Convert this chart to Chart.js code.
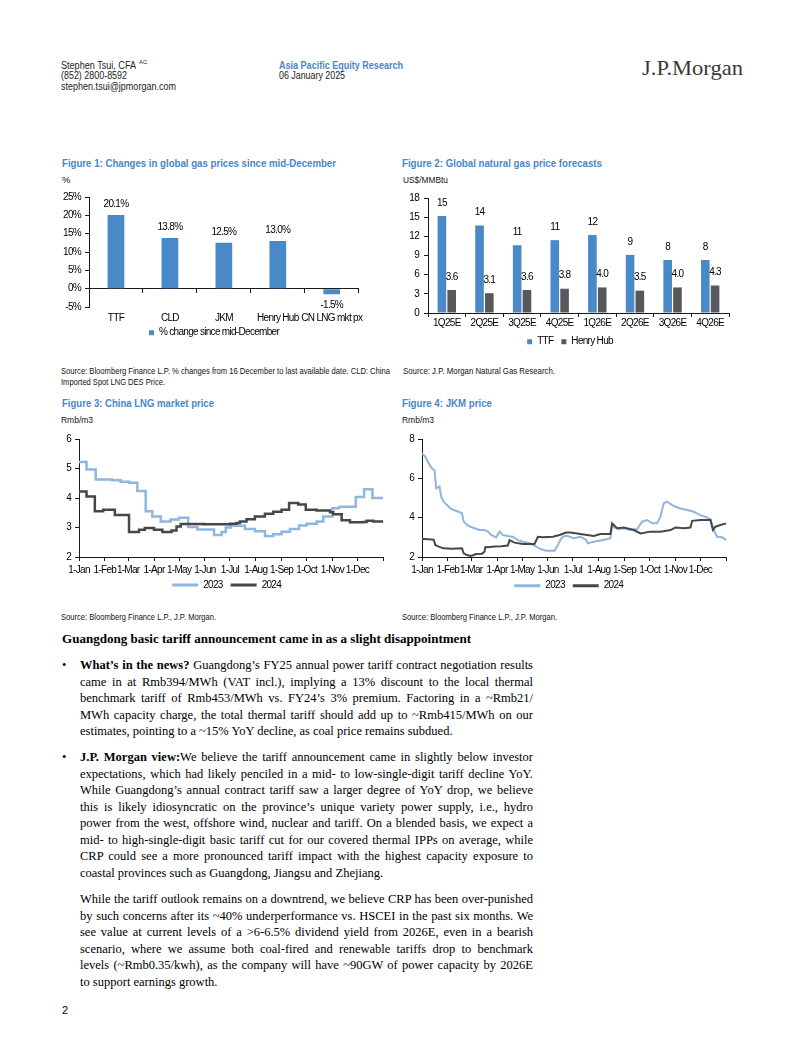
<!DOCTYPE html>
<html>
<head>
<meta charset="utf-8">
<title>Guangdong tariff and gas prices</title>
<script src="https://cdn.jsdelivr.net/npm/chart.js@4.4.0/dist/chart.umd.min.js"></script>
<style>
  html, body { margin: 0; padding: 0; background: #fff; }
  body { position: relative; width: 802px; height: 1037px; overflow: hidden; font-family: "Liberation Sans", Arial, sans-serif; color: #000; }
  .t { position: absolute; white-space: nowrap; transform-origin: 0 50%; }
  .hdr { font-size: 10px; line-height: 12px; color: #222; }
  .blue { color: #4a86c8; font-weight: bold; }
  .narrow { font-family: "Liberation Sans Narrow", "Liberation Sans", Arial, sans-serif; }
  .fig { font-weight: bold; font-size: 11.5px; line-height: 14px; color: #4a86c8; }
  .small { font-size: 9.5px; line-height: 11px; color: #111; }
  canvas { position: absolute; }
  .serif { font-family: "Liberation Serif", "Times New Roman", serif; }
  .h { font-size: 13.4px; font-weight: bold; line-height: 17px; }
  .p { font-size: 12.5px; line-height: 17px; }
  .logo { font-size: 22px; line-height: 24px; color: #3a3a3a; }
</style>
</head>
<body>

<!-- header -->
<div class="t hdr" style="left:61px;top:60px" data-w="75">Stephen Tsui, CFA</div>
<div class="t hdr" style="left:139px;top:58px;font-size:6px;line-height:8px">AC</div>
<div class="t hdr" style="left:61px;top:70px" data-w="66">(852) 2800-8592</div>
<div class="t hdr" style="left:61px;top:81px" data-w="115">stephen.tsui@jpmorgan.com</div>
<div class="t hdr blue" style="left:279px;top:60px" data-w="124">Asia Pacific Equity Research</div>
<div class="t hdr" style="left:279px;top:70px" data-w="66">06 January 2025</div>
<div class="t serif logo" style="left:642px;top:56px" data-w="101">J.P.Morgan</div>

<!-- figure titles, units, sources -->
<div class="t narrow fig" style="left:62px;top:156px" data-w="274">Figure 1: Changes in global gas prices since mid-December</div>
<div class="t narrow small" style="left:62px;top:174px">%</div>
<div class="t narrow fig" style="left:402px;top:156px" data-w="200">Figure 2: Global natural gas price forecasts</div>
<div class="t narrow small" style="left:403px;top:174px" data-w="45">US$/MMBtu</div>
<div class="t narrow small" style="left:61px;top:365px" data-w="329">Source: Bloomberg Finance L.P. % changes from 16 December to last available date. CLD: China</div>
<div class="t narrow small" style="left:61px;top:376px" data-w="104">Imported Spot LNG DES Price.</div>
<div class="t narrow small" style="left:403px;top:365px" data-w="152">Source: J.P. Morgan Natural Gas Research.</div>

<div class="t narrow fig" style="left:62px;top:396px" data-w="152">Figure 3: China LNG market price</div>
<div class="t narrow small" style="left:61px;top:414px" data-w="32">Rmb/m3</div>
<div class="t narrow fig" style="left:402px;top:396px" data-w="90">Figure 4: JKM price</div>
<div class="t narrow small" style="left:402px;top:414px" data-w="32">Rmb/m3</div>
<div class="t narrow small" style="left:61px;top:611px" data-w="155">Source: Bloomberg Finance L.P., J.P. Morgan.</div>
<div class="t narrow small" style="left:402px;top:611px" data-w="155">Source: Bloomberg Finance L.P., J.P. Morgan.</div>

<canvas id="fig1" width="312" height="169" style="left:56px;top:186px"></canvas>
<canvas id="fig2" width="352" height="173" style="left:398px;top:186px"></canvas>
<canvas id="fig3" width="336" height="178" style="left:56px;top:426px"></canvas>
<canvas id="fig4" width="340" height="178" style="left:398px;top:426px"></canvas>

<!-- text -->
<div class="t serif h" style="left:62px;top:630px" data-w="409">Guangdong basic tariff announcement came in as a slight disappointment</div>

<div class="t serif p" style="left:62px;top:657px">•</div>
<div class="t serif p j" style="left:80px;top:657px"><b>What’s in the news?</b> Guangdong’s FY25 annual power tariff contract negotiation results</div>
<div class="t serif p j" style="left:80px;top:674px">came in at Rmb394/MWh (VAT incl.), implying a 13% discount to the local thermal</div>
<div class="t serif p j" style="left:80px;top:690px">benchmark tariff of Rmb453/MWh vs. FY24’s 3% premium. Factoring in a ~Rmb21/</div>
<div class="t serif p j" style="left:80px;top:707px">MWh capacity charge, the total thermal tariff should add up to ~Rmb415/MWh on our</div>
<div class="t serif p" style="left:80px;top:723px">estimates, pointing to a ~15% YoY decline, as coal price remains subdued.</div>

<div class="t serif p" style="left:62px;top:749px">•</div>
<div class="t serif p j" style="left:80px;top:749px"><b>J.P. Morgan view:</b>We believe the tariff announcement came in slightly below investor</div>
<div class="t serif p j" style="left:80px;top:766px">expectations, which had likely penciled in a mid- to low-single-digit tariff decline YoY.</div>
<div class="t serif p j" style="left:80px;top:782px">While Guangdong’s annual contract tariff saw a larger degree of YoY drop, we believe</div>
<div class="t serif p j" style="left:80px;top:799px">this is likely idiosyncratic on the province’s unique variety power supply, i.e., hydro</div>
<div class="t serif p j" style="left:80px;top:815px">power from the west, offshore wind, nuclear and tariff. On a blended basis, we expect a</div>
<div class="t serif p j" style="left:80px;top:832px">mid- to high-single-digit basic tariff cut for our covered thermal IPPs on average, while</div>
<div class="t serif p j" style="left:80px;top:848px">CRP could see a more pronounced tariff impact with the highest capacity exposure to</div>
<div class="t serif p" style="left:80px;top:865px">coastal provinces such as Guangdong, Jiangsu and Zhejiang.</div>

<div class="t serif p j" style="left:80px;top:891px">While the tariff outlook remains on a downtrend, we believe CRP has been over-punished</div>
<div class="t serif p j" style="left:80px;top:908px">by such concerns after its ~40% underperformance vs. HSCEI in the past six months. We</div>
<div class="t serif p j" style="left:80px;top:924px">see value at current levels of a &gt;6-6.5% dividend yield from 2026E, even in a bearish</div>
<div class="t serif p j" style="left:80px;top:941px">scenario, where we assume both coal-fired and renewable tariffs drop to benchmark</div>
<div class="t serif p j" style="left:80px;top:957px">levels (~Rmb0.35/kwh), as the company will have ~90GW of power capacity by 2026E</div>
<div class="t serif p" style="left:80px;top:974px">to support earnings growth.</div>

<div class="t" style="left:62px;top:1004px;font-size:11px;line-height:13px">2</div>

<script>
// ---- data ----
const gasLabels = ['TTF', 'CLD', 'JKM', 'Henry Hub', 'CN LNG mkt px'];
const gasChange = [20.1, 13.8, 12.5, 13.0, -1.5];

const quarters = ['1Q25E', '2Q25E', '3Q25E', '4Q25E', '1Q26E', '2Q26E', '3Q26E', '4Q26E'];
const ttfForecast = [15.2, 13.7, 10.6, 11.4, 12.2, 9.1, 8.3, 8.3];
const hhForecast = [3.6, 3.1, 3.6, 3.8, 4.0, 3.5, 4.0, 4.3];

const monthStarts = [0, 31, 59, 90, 120, 151, 181, 212, 243, 273, 304, 334, 365];
const monthLabels = ['1-Jan', '1-Feb', '1-Mar', '1-Apr', '1-May', '1-Jun', '1-Jul', '1-Aug', '1-Sep', '1-Oct', '1-Nov', '1-Dec', ''];

// China LNG market price (day of year, Rmb/m3), stepped
const lngDays2023 = [0, 9, 20, 40, 50, 60, 70, 80, 88, 98, 110, 120, 131, 142, 162, 171, 176, 182, 199, 211, 223, 233, 243, 253, 264, 273, 285, 293, 304, 312, 332, 342, 352, 365];
const lng2023 = [5.22, 4.97, 4.63, 4.6, 4.55, 4.52, 4.24, 3.55, 3.37, 3.2, 3.27, 3.33, 3.02, 2.93, 2.75, 2.85, 3.0, 3.06, 2.95, 2.87, 2.71, 2.77, 2.86, 2.95, 3.07, 3.13, 3.2, 3.37, 3.65, 3.7, 4.03, 4.3, 4.0, 4.0];
const lngDays2024 = [0, 9, 19, 29, 43, 60, 72, 79, 90, 100, 111, 117, 122, 150, 181, 189, 193, 201, 211, 223, 233, 243, 252, 263, 272, 285, 301, 305, 315, 325, 341, 345, 353, 365];
const lng2024 = [4.22, 4.05, 3.55, 3.6, 3.42, 2.85, 2.92, 2.98, 2.92, 2.85, 2.9, 3.03, 3.12, 3.11, 3.13, 3.15, 3.2, 3.28, 3.37, 3.47, 3.53, 3.6, 3.83, 3.78, 3.6, 3.58, 3.52, 3.45, 3.25, 3.18, 3.19, 3.23, 3.2, 3.2];

// JKM price (day of year, Rmb/m3)
const jkmDays2023 = [0, 4, 8, 12, 15, 17, 21, 23, 26, 30, 34, 38, 44, 48, 50, 54, 58, 63, 69, 75, 79, 83, 89, 93, 97, 103, 109, 115, 121, 129, 137, 143, 149, 159, 163, 167, 171, 175, 182, 190, 197, 199, 202, 210, 218, 226, 228, 236, 242, 250, 258, 264, 270, 276, 282, 286, 290, 294, 302, 310, 318, 326, 334, 342, 346, 350, 354, 360, 365];
const jkm2023 = [7.27, 7.1, 6.76, 6.5, 6.42, 5.5, 5.58, 5.07, 4.8, 4.64, 4.47, 4.39, 4.3, 4.22, 3.8, 3.63, 3.54, 3.46, 3.37, 3.37, 3.29, 3.12, 3.0, 3.29, 3.12, 3.07, 3.03, 2.86, 2.78, 2.7, 2.53, 2.39, 2.32, 2.32, 2.61, 2.95, 3.07, 3.07, 2.95, 3.03, 2.86, 2.7, 2.73, 2.81, 2.86, 2.95, 3.54, 3.42, 3.46, 3.37, 3.42, 3.8, 3.88, 3.71, 3.71, 4.05, 4.73, 4.81, 4.59, 4.47, 4.39, 4.3, 4.13, 4.01, 3.91, 3.37, 3.03, 3.0, 2.86];
const jkmDays2024 = [0, 8, 14, 16, 20, 26, 36, 48, 50, 54, 58, 62, 65, 72, 75, 76, 79, 87, 95, 103, 105, 111, 121, 135, 139, 145, 157, 165, 173, 178, 186, 198, 206, 214, 226, 228, 234, 242, 254, 262, 274, 286, 298, 304, 314, 322, 324, 334, 346, 349, 352, 358, 365];
const jkm2024 = [2.92, 2.9, 2.88, 2.61, 2.53, 2.44, 2.42, 2.44, 2.19, 2.1, 2.05, 2.1, 2.15, 2.17, 2.27, 2.5, 2.49, 2.53, 2.55, 2.58, 2.86, 2.73, 2.66, 2.66, 3.03, 3.0, 3.03, 3.12, 3.24, 3.25, 3.2, 3.12, 3.07, 3.17, 3.17, 3.71, 3.46, 3.5, 3.37, 3.2, 3.29, 3.29, 3.37, 3.5, 3.46, 3.5, 3.84, 3.88, 3.88, 3.37, 3.54, 3.63, 3.71];

// ---- styling ----
const FONT = '"Liberation Sans Narrow", "Liberation Sans", Arial, sans-serif';
const BLUE = '#4a89c8';
const GREY = '#58585a';
const LIGHT = '#8fb6dd';
const DARK = '#474747';
const AXIS = '#1a1a1a';

Chart.defaults.font.family = FONT;
Chart.defaults.font.size = 10;
Chart.defaults.color = '#000';
Chart.defaults.animation = false;
Chart.defaults.responsive = false;
Chart.defaults.plugins.tooltip.enabled = false;

// no narrow face installed, so squeeze the letters a bit instead
const narrowText = {
  id: 'narrowText',
  beforeUpdate(chart) { chart.ctx.letterSpacing = '-0.7px'; },
  beforeDraw(chart) { chart.ctx.letterSpacing = '-0.7px'; }
};
Chart.register(narrowText);

// numbers over / under bars
const valueLabels = {
  id: 'valueLabels',
  afterDatasetsDraw(chart, args, opts) {
    if (!opts.format) return;
    const ctx = chart.ctx;
    ctx.save();
    ctx.font = '10px ' + FONT;
    ctx.fillStyle = '#000';
    ctx.textAlign = 'center';
    ctx.textBaseline = 'middle';
    chart.data.datasets.forEach((ds, i) => {
      chart.getDatasetMeta(i).data.forEach((bar, j) => {
        const v = ds.data[j];
        const y = v >= 0 ? bar.y - opts.offset : bar.y + opts.offset;
        ctx.fillText(opts.format(v, i), bar.x, y);
      });
    });
    ctx.restore();
  }
};

// nudge the legend box to where the source had it
const legendShift = {
  id: 'legendShift',
  afterLayout(chart, args, opts) {
    const lg = chart.legend;
    if (!lg) return;
    const dx = opts.dx || 0, dy = opts.dy || 0;
    lg.left += dx; lg.right += dx;
    lg.top += dy; lg.bottom += dy;
  }
};

const tickGrid = { drawOnChartArea: false, tickLength: 4, color: AXIS };
const axisBorder = { color: AXIS };

// Figure 1
new Chart(document.getElementById('fig1'), {
  type: 'bar',
  data: {
    labels: gasLabels,
    datasets: [{ label: '% change since mid-December', data: gasChange, backgroundColor: BLUE, categoryPercentage: 1, barPercentage: 0.31 }]
  },
  options: {
    layout: { padding: { top: 11, right: 8, bottom: 0, left: 0 } },
    scales: {
      x: {
        grid: { display: false, drawTicks: false }, border: { display: false },
        ticks: { padding: 5, autoSkip: false, maxRotation: 0 },
        afterFit: s => { s.height = 20; }
      },
      x0: {
        type: 'category', labels: gasLabels, position: { y: 0 }, offset: true,
        grid: tickGrid, border: axisBorder, ticks: { display: false }
      },
      y: {
        min: -5, max: 25,
        ticks: { stepSize: 5, padding: 4, callback: v => v + '%' },
        grid: tickGrid, border: axisBorder,
        afterFit: s => { s.width = 33; }
      }
    },
    plugins: {
      legend: { position: 'bottom', labels: { boxWidth: 5, boxHeight: 5, padding: 8 } },
      valueLabels: { offset: 11, format: v => v.toFixed(1) + '%' },
      legendShift: { dx: 6, dy: -7.3 }
    }
  },
  plugins: [valueLabels, legendShift]
});

// Figure 2
new Chart(document.getElementById('fig2'), {
  type: 'bar',
  data: {
    labels: quarters,
    datasets: [
      { label: 'TTF', data: ttfForecast, backgroundColor: BLUE, categoryPercentage: 0.52, barPercentage: 0.88 },
      { label: 'Henry Hub', data: hhForecast, backgroundColor: GREY, categoryPercentage: 0.52, barPercentage: 0.88 }
    ]
  },
  options: {
    layout: { padding: { top: 12, right: 21, bottom: 0, left: 0 } },
    scales: {
      x: {
        grid: tickGrid, border: axisBorder,
        ticks: { padding: 0, autoSkip: false, maxRotation: 0 },
        afterFit: s => { s.height = 18; }
      },
      y: {
        min: 0, max: 18,
        ticks: { stepSize: 3, padding: 5 },
        grid: tickGrid, border: axisBorder,
        afterFit: s => { s.width = 30; }
      }
    },
    plugins: {
      legend: { position: 'bottom', labels: { boxWidth: 5, boxHeight: 5, padding: 8 } },
      valueLabels: { offset: 13, format: (v, i) => i === 0 ? v.toFixed(0) : v.toFixed(1) },
      legendShift: { dx: 6.5, dy: -2.3 }
    }
  },
  plugins: [valueLabels, legendShift]
});

// Figures 3 and 4
const toPoints = (days, vals) => days.map((d, i) => ({ x: d, y: vals[i] }));

function seasonalChart(id, pts2023, pts2024, yMax, yStep, yWidth, padRight, lineWidth, stepped, dx, dy) {
  return new Chart(document.getElementById(id), {
    type: 'line',
    data: {
      datasets: [
        { label: '2023', data: pts2023, borderColor: LIGHT, backgroundColor: LIGHT, borderWidth: lineWidth, pointRadius: 0, stepped: stepped, order: 2 },
        { label: '2024', data: pts2024, borderColor: DARK, backgroundColor: DARK, borderWidth: lineWidth, pointRadius: 0, stepped: stepped, order: 1 }
      ]
    },
    options: {
      layout: { padding: { top: 13, right: padRight, bottom: 0, left: 0 } },
      scales: {
        x: {
          type: 'linear', min: 0, max: 365,
          afterBuildTicks: s => { s.ticks = monthStarts.map(v => ({ value: v })); },
          ticks: { autoSkip: false, maxRotation: 0, padding: 3, callback: (v, i) => monthLabels[i] },
          grid: tickGrid, border: axisBorder,
          afterFit: s => { s.height = 19; }
        },
        y: {
          min: 2, max: yMax,
          ticks: { stepSize: yStep, padding: 4 },
          grid: tickGrid, border: axisBorder,
          afterFit: s => { s.width = yWidth; }
        }
      },
      plugins: {
        legend: {
          position: 'bottom',
          labels: {
            boxWidth: 26, boxHeight: 3, padding: 8,
            sort: (a, b) => a.datasetIndex - b.datasetIndex,
            generateLabels: chart => Chart.defaults.plugins.legend.labels.generateLabels(chart).map(l => Object.assign(l, { lineWidth: 0 }))
          }
        },
        legendShift: { dx: dx, dy: dy }
      }
    },
    plugins: [legendShift]
  });
}

seasonalChart('fig3', toPoints(lngDays2023, lng2023), toPoints(lngDays2024, lng2024), 6, 1, 23, 8.7, 2.5, 'before', 7, -4);
seasonalChart('fig4', toPoints(jkmDays2023, jkm2023), toPoints(jkmDays2024, jkm2024), 8, 2, 24, 11.7, 2, false, 6.6, -3.3);

// ---- text fitting ----
const BODY_W = 453;
function fitText() {
  document.querySelectorAll('[data-w]').forEach(el => {
    el.style.transform = 'none';
    const w = el.getBoundingClientRect().width;
    el.style.transform = 'scaleX(' + (el.dataset.w / w) + ')';
  });
  document.querySelectorAll('.j').forEach(el => {
    el.style.wordSpacing = '0px';
    const w = el.getBoundingClientRect().width;
    const gaps = el.textContent.split(' ').length - 1;
    el.style.wordSpacing = ((BODY_W - w) / gaps) + 'px';
  });
}
fitText();
if (document.fonts) document.fonts.ready.then(fitText);
</script>
</body>
</html>
